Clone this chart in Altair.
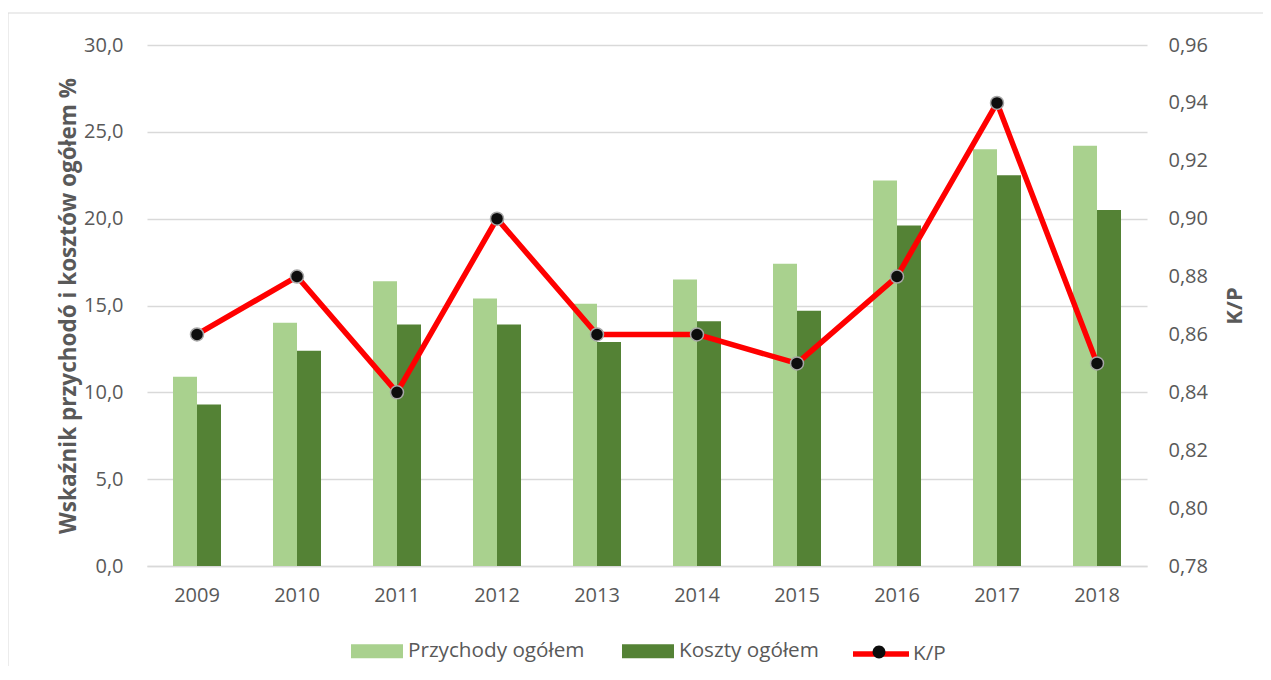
import altair as alt
import pandas as pd

years = ["2009", "2010", "2011", "2012", "2013", "2014", "2015", "2016", "2017", "2018"]
przychody = [10.9, 14.0, 16.4, 15.4, 15.1, 16.5, 17.4, 22.2, 24.0, 24.2]
koszty = [9.3, 12.4, 13.9, 13.9, 12.9, 14.1, 14.7, 19.6, 22.5, 20.5]
kp = [0.86, 0.88, 0.84, 0.90, 0.86, 0.86, 0.85, 0.88, 0.94, 0.85]

series_names = ["Przychody ogółem", "Koszty ogółem"]
bar_colors = ["#A9D18E", "#548235"]
kp_name = "K/P"
kp_marker_name = "K/P "
left_ticks = [0, 5, 10, 15, 20, 25, 30]
right_ticks = [0.78, 0.80, 0.82, 0.84, 0.86, 0.88, 0.90, 0.92, 0.94, 0.96]

bars_df = pd.DataFrame({
    "rok": years * 2,
    "seria": [series_names[0]] * len(years) + [series_names[1]] * len(years),
    "wartosc": przychody + koszty,
})
kp_df = pd.DataFrame({
    "rok": years, "kp": kp,
    "linia": [kp_name] * len(years),
    "punkt": [kp_marker_name] * len(years),
})

FONT = "Open Sans"
GREY = "#595959"
GRID = "#D9D9D9"

x_enc = alt.X(
    "rok:N", sort=years,
    scale=alt.Scale(paddingInner=0.52, paddingOuter=0.26),
    axis=alt.Axis(title=None, labelAngle=0, labelPadding=19, ticks=False,
                  domainColor=GRID, domainWidth=1.5, grid=False),
)

y_left = alt.Y(
    "wartosc:Q",
    scale=alt.Scale(domain=[0, 30], nice=False, zero=True),
    axis=alt.Axis(values=left_ticks, labelExpr="replace(format(datum.value, '.1f'), '.', ',')",
                  title="Wskaźnik przychodó i kosztów ogółem %", titleFontWeight="bold",
                  titleFontSize=22.5, titlePadding=3, labelPadding=24, ticks=False, domain=False,
                  grid=True, gridColor=GRID, gridWidth=1.3),
)

y_right = alt.Y(
    "kp:Q",
    scale=alt.Scale(domain=[0.78, 0.96], nice=False, zero=False),
    axis=alt.Axis(orient="right", values=right_ticks,
                  labelExpr="replace(format(datum.value, '.2f'), '.', ',')",
                  title="K/P", titleFontWeight="bold", titleAngle=270, titleBaseline="top",
                  titleFontSize=22, titlePadding=17, labelPadding=21, ticks=False,
                  domain=False, grid=False),
)

frame = alt.Chart(pd.DataFrame({"f": [0]})).mark_rect(
    fillOpacity=0, stroke=GRID, strokeWidth=1
).encode(x=alt.value(-139), x2=alt.value(1300), y=alt.value(-32), y2=alt.value(800))

bars = alt.Chart(bars_df).mark_bar().encode(
    x=x_enc,
    xOffset=alt.XOffset("seria:N", sort=series_names,
                        scale=alt.Scale(domain=series_names, paddingInner=0, paddingOuter=0)),
    y=y_left,
    color=alt.Color(
        "seria:N",
        scale=alt.Scale(domain=series_names, range=bar_colors),
        legend=alt.Legend(title=None, orient="none", direction="horizontal",
                          legendX=204, legendY=580, labelLimit=400, labelFontSize=20.7,
                          symbolType="M-1,-0.27L1,-0.27L1,0.27L-1,0.27Z", symbolSize=2704,
                          symbolStrokeWidth=0, labelOffset=5, columnPadding=37),
    ),
)

line = alt.Chart(kp_df).mark_line(strokeWidth=5.5, strokeJoin="round").encode(
    x=alt.X("rok:N", sort=years),
    y=y_right,
    stroke=alt.Stroke(
        "linia:N",
        scale=alt.Scale(domain=[kp_name], range=["#FF0000"]),
        legend=alt.Legend(title=None, orient="none", direction="horizontal",
                          legendX=703, legendY=578, symbolType="stroke", symbolSize=3136,
                          symbolStrokeWidth=5.5, labelOffset=1, labelLimit=200,
                          labelFontSize=20.7),
    ),
)

points = alt.Chart(kp_df).mark_circle(
    size=169, color="#0D0D0D", stroke="#A6A6A6", strokeWidth=1.5
).encode(
    x=alt.X("rok:N", sort=years),
    y=y_right,
    opacity=alt.Opacity(
        "punkt:N",
        scale=alt.Scale(domain=[kp_marker_name], range=[1]),
        legend=alt.Legend(title=None, orient="none", direction="horizontal",
                          legendX=703, legendY=578,
                          symbolType="M-0.23,0A0.23,0.23 0 1,1 0.23,0A0.23,0.23 0 1,1 -0.23,0Z",
                          symbolSize=3136, symbolFillColor="#0D0D0D",
                          symbolStrokeColor="#A6A6A6", symbolStrokeWidth=1.5,
                          labelOffset=1, labelExpr="''"),
    ),
)

chart = alt.layer(frame, bars, alt.layer(line, points)).resolve_scale(
    y="independent"
).properties(
    width=1000, height=521,
    autosize=alt.AutoSizeParams(type="none"),
    padding={"left": 139, "top": 37, "right": 116, "bottom": 100},
).configure(font=FONT).configure_view(stroke=None).configure_axis(
    labelFont=FONT, titleFont=FONT, labelFontSize=20, titleFontSize=20,
    labelColor=GREY, titleColor=GREY,
).configure_legend(
    labelFont=FONT, labelFontSize=20, labelColor=GREY, padding=0, offset=0,
)

chart.save("out.html", embed_options={"renderer": "svg", "actions": False})
